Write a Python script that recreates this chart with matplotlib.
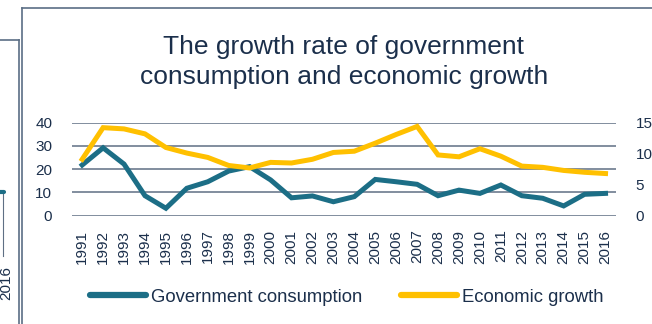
import matplotlib

matplotlib.use("Agg")

import matplotlib.pyplot as plt
from matplotlib.lines import Line2D

years = [str(y) for y in range(1991, 2017)]
gov_consumption = [21.8, 29.2, 22.2, 8.6, 3.2, 11.8, 14.6, 19.2, 21.1, 15.4,
                   7.7, 8.5, 6.0, 8.2, 15.6, 14.6, 13.5, 8.6, 11.0, 9.6,
                   13.2, 8.6, 7.5, 4.2, 9.2, 9.6]
econ_growth = [9.1, 14.2, 14.0, 13.2, 11.0, 10.1, 9.4, 8.1, 7.7, 8.6,
               8.5, 9.1, 10.2, 10.4, 11.7, 13.1, 14.4, 9.8, 9.5, 10.8,
               9.6, 8.0, 7.8, 7.3, 7.0, 6.8]
left_ticks = [0, 10, 20, 30, 40]
right_ticks = [0, 5, 10, 15]

TEAL = "#1c6e86"
GOLD = "#ffc000"
TEXT = "#1b2f4b"
GRID = "#5f6f84"
FRAME = "#5b6e85"

plt.rcParams.update({
    "font.family": ["Liberation Sans", "DejaVu Sans"],
    "text.color": TEXT,
    "xtick.color": TEXT,
    "ytick.color": TEXT,
})

W, H = 652, 324
fig = plt.figure(figsize=(W / 100, H / 100), dpi=100)
fig.patch.set_facecolor("white")

ax = fig.add_axes([71.7 / W, 1 - 215.7 / H, (616 - 71.7) / W, (215.7 - 122.7) / H])
ax2 = ax.twinx()

x = range(len(years))
ax.plot(x, gov_consumption, color=TEAL, lw=3.6, solid_joinstyle="miter", zorder=3)
ax2.plot(x, econ_growth, color=GOLD, lw=3.6, solid_joinstyle="miter", zorder=3)

ax.set_xlim(-0.5, len(years) - 0.5)
ax.set_ylim(0, 40)
ax2.set_ylim(0, 15)
ax.set_yticks(left_ticks)
ax2.set_yticks(right_ticks)
ax.set_xticks(list(x))
ax.set_xticklabels(years, rotation=90, fontsize=11)

for t in left_ticks:
    ax.axhline(t, color=GRID, lw=1.1, zorder=1)

for a in (ax, ax2):
    for s in a.spines.values():
        s.set_visible(False)
    a.tick_params(length=0)
    a.set_facecolor("none")
ax.tick_params(axis="y", labelsize=11, pad=14)
ax.tick_params(axis="x", pad=10)
ax2.tick_params(axis="y", labelsize=11, pad=14)
ax2.set_zorder(ax.get_zorder() + 1)

fig.text(344 / W, 1 - 62 / H,
         "The growth rate of government\nconsumption and economic growth",
         ha="center", va="center", fontsize=19, linespacing=1.3, color=TEXT)

handles = [Line2D([], [], color=TEAL, lw=4.5, solid_capstyle="round"),
           Line2D([], [], color=GOLD, lw=4.5, solid_capstyle="round")]
fig.legend(handles, ["Government consumption", "Economic growth"],
           loc="center", bbox_to_anchor=(347 / W, 1 - 297 / H), ncol=2,
           frameon=False, fontsize=13.3, handlelength=3.0,
           handletextpad=0.3, columnspacing=2.1)

# chart frame and the edge of the neighbouring chart
fig.add_artist(Line2D([22 / W, 22 / W], [0, 1 - 8 / H], color=FRAME, lw=1.2))
fig.add_artist(Line2D([22 / W, 1], [1 - 8 / H, 1 - 8 / H], color=FRAME, lw=1.2))
fig.add_artist(Line2D([18.5 / W, 18.5 / W], [0, 1 - 40 / H], color=FRAME, lw=1.2))
fig.add_artist(Line2D([0, 18.5 / W], [1 - 40 / H, 1 - 40 / H], color=FRAME, lw=1.2))
fig.add_artist(Line2D([3.3 / W, 3.3 / W], [1 - 256 / H, 1 - 192 / H], color=GRID, lw=0.8))
fig.add_artist(Line2D([0, 3.5 / W], [1 - 191.7 / H, 1 - 191.7 / H], color=TEAL, lw=3.0,
                      solid_capstyle="round"))
fig.text(6 / W, 1 - 283 / H, "2016", rotation=90, ha="center", va="center",
         fontsize=11, color=TEXT)

fig.savefig("out.png", dpi=100)
